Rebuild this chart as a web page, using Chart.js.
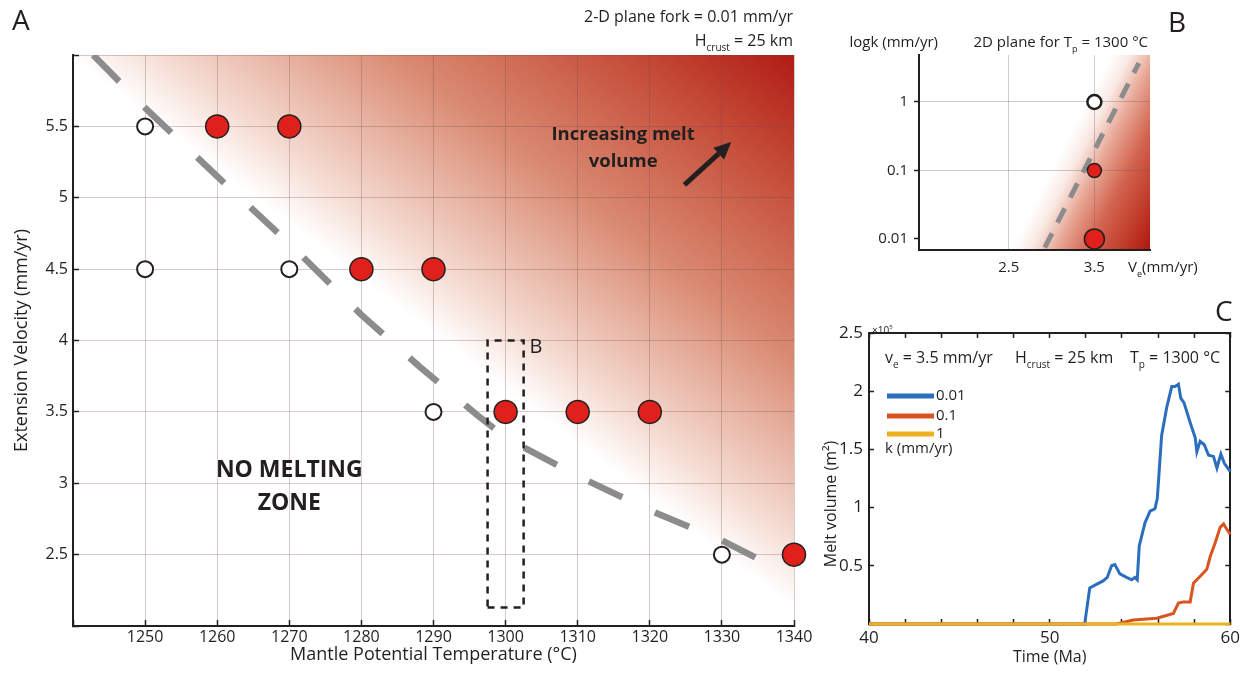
<!DOCTYPE html>
<html>
<head>
<meta charset="utf-8">
<script src="https://cdn.jsdelivr.net/npm/chart.js@4.4.1/dist/chart.umd.min.js"></script>
<style>
  body { margin: 0; background: #fff; width: 1249px; height: 680px; overflow: hidden; position: relative; }
  canvas { position: absolute; }
  #chartA { left: 0; top: 0; }
  #chartB { left: 820px; top: 0; }
  #chartC { left: 820px; top: 290px; }
</style>
</head>
<body>
<canvas id="chartA" width="830" height="680"></canvas>
<canvas id="chartB" width="429" height="290"></canvas>
<canvas id="chartC" width="429" height="390"></canvas>
<script>
// ---- panel A : regime diagram ----
const tempTicks = [1240, 1250, 1260, 1270, 1280, 1290, 1300, 1310, 1320, 1330, 1340];
const velTicks = [2, 2.5, 3, 3.5, 4, 4.5, 5, 5.5, 6];
const meltT = [1260, 1270, 1280, 1290, 1300, 1310, 1320, 1340];
const meltV = [5.5, 5.5, 4.5, 4.5, 3.5, 3.5, 3.5, 2.5];
const noMeltT = [1250, 1250, 1270, 1290, 1330];
const noMeltV = [5.5, 4.5, 4.5, 3.5, 2.5];
const boundaryT = [1242.8, 1250, 1260, 1270, 1280, 1288, 1296, 1300, 1310, 1320, 1330, 1337];
const boundaryV = [6.0, 5.63, 5.15, 4.68, 4.18, 3.82, 3.48, 3.32, 3.05, 2.81, 2.6, 2.42];
const boxT = [1297.5, 1302.5, 1302.5, 1297.5, 1297.5];
const boxV = [2.13, 2.13, 4.0, 4.0, 2.13];

// ---- panel B : 2D plane for Tp = 1300 ----
const veTicks = [2.5, 3.5];
const kTicks = [0.01, 0.1, 1];
const bOpenVe = [3.5];
const bOpenK = [1];
const bMeltVe = [3.5, 3.5];
const bMeltK = [0.1, 0.01];
const bMeltSize = [7, 10];
const bLineVe = [2.92, 4.02];
const bLineK = [0.0075, 3.7];

// ---- panel C : melt volume through time (x 1e5 m2) ----
const blueT = [40, 51.94, 52.22, 52.59, 52.96, 53.19, 53.43, 53.61, 53.89, 54.26, 54.54, 54.72, 54.85, 54.96, 55.28, 55.56, 55.83, 55.96, 56.2, 56.48, 56.76, 56.94, 57.13, 57.26, 57.44, 57.78, 58.06, 58.15, 58.33, 58.56, 58.8, 59.07, 59.26, 59.48, 59.67, 60];
const blueV = [0, 0, 0.31, 0.34, 0.37, 0.40, 0.50, 0.51, 0.43, 0.40, 0.38, 0.40, 0.38, 0.67, 0.87, 0.97, 0.99, 1.08, 1.62, 1.86, 2.04, 2.04, 2.06, 1.94, 1.90, 1.73, 1.60, 1.48, 1.57, 1.54, 1.45, 1.44, 1.34, 1.46, 1.38, 1.31];
const redT = [40, 53.7, 54.63, 55.93, 56.85, 57.13, 57.41, 57.78, 57.96, 58.15, 58.52, 58.7, 58.89, 59.17, 59.44, 59.63, 59.78, 60];
const redV = [0, 0, 0.035, 0.05, 0.09, 0.18, 0.19, 0.19, 0.35, 0.38, 0.44, 0.47, 0.58, 0.70, 0.83, 0.86, 0.82, 0.77];
const yellowT = [40, 60];
const yellowV = [0, 0];
const kLabels = ['0.01', '0.1', '1'];

const FONT = '"Open Sans", sans-serif';
const INK = '#231f20';
Chart.defaults.font.family = FONT;
Chart.defaults.color = INK;
Chart.defaults.animation = false;
Chart.defaults.plugins.legend.display = false;
Chart.defaults.plugins.tooltip.enabled = false;

const pts = (xs, ys) => xs.map((x, i) => ({ x: x, y: ys[i] }));

// text with sub/superscript pieces: [[text, 'sub'|'sup'|null], ...]
function rich(ctx, parts, x, y, size, align, weight) {
  weight = weight || 'normal';
  const fontOf = p => `${weight} ${p[1] ? Math.round(size * 0.6) : size}px ${FONT}`;
  const w = parts.map(p => { ctx.font = fontOf(p); return ctx.measureText(p[0]).width; });
  const total = w.reduce((s, v) => s + v, 0);
  let cx = align === 'right' ? x - total : align === 'center' ? x - total / 2 : x;
  ctx.textAlign = 'left';
  ctx.textBaseline = 'middle';
  ctx.fillStyle = INK;
  parts.forEach((p, i) => {
    ctx.font = fontOf(p);
    const dy = p[1] === 'sub' ? size * 0.42 : p[1] === 'sup' ? -size * 0.38 : 0;
    ctx.fillText(p[0], cx, y + dy);
    cx += w[i];
  });
}

// ================= A =================
const gradA = {
  id: 'gradA',
  beforeDraw(chart) {
    const { ctx, chartArea: a, scales: { x, y } } = chart;
    const x0 = x.getPixelForValue(1303), y0 = y.getPixelForValue(3.55);
    const g = ctx.createLinearGradient(x0, y0, a.right, a.top);
    g.addColorStop(0, '#ffffff');
    g.addColorStop(0.12, '#f5ddd4');
    g.addColorStop(0.45, '#d98a72');
    g.addColorStop(0.75, '#c6503c');
    g.addColorStop(1, '#b01c14');
    ctx.save();
    ctx.fillStyle = g;
    ctx.fillRect(a.left, a.top, a.width, a.height);
    ctx.restore();
  },
  afterDraw(chart) {
    const { ctx, scales: { x, y } } = chart;
    ctx.save();
    rich(ctx, [['A']], 12, 22, 28, 'left');
    rich(ctx, [['2-D plane fork = 0.01 mm/yr']], 793, 17, 16, 'right');
    rich(ctx, [['H'], ['crust', 'sub'], [' = 25 km']], 793, 41, 16, 'right');
    rich(ctx, [['Increasing melt']], x.getPixelForValue(1316.3), y.getPixelForValue(5.44), 18.5, 'center', 'bold');
    rich(ctx, [['volume']], x.getPixelForValue(1316.3), y.getPixelForValue(5.255), 18.5, 'center', 'bold');
    rich(ctx, [['NO MELTING']], x.getPixelForValue(1270), y.getPixelForValue(3.09), 23, 'center', 'bold');
    rich(ctx, [['ZONE']], x.getPixelForValue(1270), y.getPixelForValue(2.86), 23, 'center', 'bold');
    rich(ctx, [['B']], x.getPixelForValue(1303.3), y.getPixelForValue(3.95), 20, 'left');
    // arrow
    const tx = x.getPixelForValue(1324.8), ty = y.getPixelForValue(5.09);
    const hx = x.getPixelForValue(1331.3), hy = y.getPixelForValue(5.39);
    const ang = Math.atan2(hy - ty, hx - tx);
    const hl = 17, hw = 8;
    const bx = hx - hl * Math.cos(ang), by = hy - hl * Math.sin(ang);
    ctx.strokeStyle = INK; ctx.fillStyle = INK; ctx.lineWidth = 5;
    ctx.beginPath(); ctx.moveTo(tx, ty); ctx.lineTo(bx, by); ctx.stroke();
    ctx.beginPath();
    ctx.moveTo(hx, hy);
    ctx.lineTo(bx + hw * Math.sin(ang), by - hw * Math.cos(ang));
    ctx.lineTo(bx - hw * Math.sin(ang), by + hw * Math.cos(ang));
    ctx.closePath(); ctx.fill();
    ctx.restore();
  }
};

new Chart(document.getElementById('chartA'), {
  type: 'scatter',
  data: {
    datasets: [
      { data: pts(meltT, meltV), pointRadius: 11.5, pointBackgroundColor: '#e0211b', pointBorderColor: INK, pointBorderWidth: 1.5, clip: false, order: 0 },
      { data: pts(noMeltT, noMeltV), pointRadius: 8, pointBackgroundColor: '#ffffff', pointBorderColor: INK, pointBorderWidth: 2, clip: false, order: 1 },
      { data: pts(boxT, boxV), showLine: true, pointRadius: 0, borderColor: INK, borderWidth: 2.5, borderDash: [7, 6], order: 2 },
      { data: pts(boundaryT, boundaryV), showLine: true, pointRadius: 0, borderColor: '#8c8c8c', borderWidth: 6.5, borderDash: [37, 36], order: 3 }
    ]
  },
  options: {
    responsive: false,
    devicePixelRatio: 1,
    layout: { padding: { top: 55, right: 36, left: 0, bottom: 0 } },
    scales: {
      x: {
        min: 1240, max: 1340,
        afterBuildTicks: s => { s.ticks = tempTicks.map(v => ({ value: v })); },
        afterFit: s => { s.height = 54; },
        ticks: { callback: v => v === 1240 ? '' : v, font: { size: 16 }, padding: 8, maxRotation: 0, autoSkip: false },
        grid: { color: 'rgba(110,70,70,0.28)', tickLength: -6, tickColor: INK, tickWidth: 1.5 },
        border: { color: INK, width: 2 },
        title: { display: true, text: 'Mantle Potential Temperature (°C)', font: { size: 18 }, padding: { top: 4, bottom: 14 } }
      },
      y: {
        min: 2, max: 6,
        afterBuildTicks: s => { s.ticks = velTicks.map(v => ({ value: v })); },
        afterFit: s => { s.width = 73; },
        ticks: { callback: v => (v === 2 || v === 6) ? '' : v, font: { size: 16 }, padding: 11, autoSkip: false },
        grid: { color: 'rgba(110,70,70,0.28)', tickLength: -6, tickColor: INK, tickWidth: 1.5 },
        border: { color: INK, width: 2 },
        title: { display: true, text: 'Extension Velocity (mm/yr)', font: { size: 18 }, padding: { top: 11, bottom: 0 } }
      }
    }
  },
  plugins: [gradA]
});

// ================= B =================
const gradB = {
  id: 'gradB',
  beforeDraw(chart) {
    const { ctx, chartArea: a, scales: { x, y } } = chart;
    const ax = x.getPixelForValue(bLineVe[0]), ay = y.getPixelForValue(bLineK[0]);
    const bx = x.getPixelForValue(bLineVe[1]), by = y.getPixelForValue(bLineK[1]);
    const L = Math.hypot(bx - ax, by - ay), ux = (bx - ax) / L, uy = (by - ay) / L;
    const cx = a.right, cy = a.bottom;
    const s = (cx - ax) * ux + (cy - ay) * uy;
    const fx = ax + s * ux, fy = ay + s * uy;
    const g = ctx.createLinearGradient(fx - (cx - fx) * 0.3, fy - (cy - fy) * 0.3, cx, cy);
    g.addColorStop(0, '#ffffff');
    g.addColorStop(0.14, '#f9e9e3');
    g.addColorStop(0.32, '#e8a796');
    g.addColorStop(0.55, '#d26550');
    g.addColorStop(0.8, '#c03a28');
    g.addColorStop(1, '#ac1810');
    ctx.save();
    ctx.fillStyle = g;
    ctx.fillRect(a.left, a.top, a.width, a.height);
    ctx.restore();
  },
  afterDraw(chart) {
    const ctx = chart.ctx;
    ctx.save();
    rich(ctx, [['B']], 348, 24, 28, 'left');
    rich(ctx, [['logk (mm/yr)']], 118, 43, 15, 'right');
    rich(ctx, [['2D plane for T'], ['p', 'sub'], [' = 1300 °C']], 328, 43, 15, 'right');
    rich(ctx, [['V'], ['e', 'sub'], ['(mm/yr)']], 308, 268, 15, 'left');
    ctx.restore();
  }
};

new Chart(document.getElementById('chartB'), {
  type: 'scatter',
  data: {
    datasets: [
      { data: pts(bMeltVe, bMeltK), pointRadius: bMeltSize, pointBackgroundColor: '#e0211b', pointBorderColor: INK, pointBorderWidth: 1.5, clip: false, order: 0 },
      { data: pts(bOpenVe, bOpenK), pointRadius: 7, pointBackgroundColor: '#ffffff', pointBorderColor: INK, pointBorderWidth: 2.5, clip: false, order: 1 },
      { data: pts(bLineVe, bLineK), showLine: true, pointRadius: 0, borderColor: '#8c8c8c', borderWidth: 5, borderDash: [16, 12], order: 2 }
    ]
  },
  options: {
    responsive: false,
    devicePixelRatio: 1,
    layout: { padding: { top: 55, right: 99, left: 0, bottom: 0 } },
    scales: {
      x: {
        min: 1.45, max: 4.15,
        afterBuildTicks: s => { s.ticks = veTicks.map(v => ({ value: v })); },
        afterFit: s => { s.height = 40; },
        ticks: { font: { size: 15 }, padding: 9, maxRotation: 0, autoSkip: false },
        grid: { color: 'rgba(110,80,80,0.3)', drawTicks: false },
        border: { color: INK, width: 2 }
      },
      y: {
        type: 'logarithmic',
        min: 0.0069, max: 4.85,
        afterBuildTicks: s => { s.ticks = kTicks.map(v => ({ value: v })); },
        afterFit: s => { s.width = 99; },
        ticks: { callback: v => String(v), font: { size: 15 }, padding: 6, autoSkip: false },
        grid: { color: c => c.tick && c.tick.value === 0.01 ? 'rgba(0,0,0,0)' : 'rgba(110,80,80,0.3)', tickLength: 5, tickColor: INK, tickWidth: 1.5 },
        border: { color: INK, width: 2 }
      }
    }
  },
  plugins: [gradB]
});

// ================= C =================
const textC = {
  id: 'textC',
  afterDraw(chart) {
    const ctx = chart.ctx;
    ctx.save();
    rich(ctx, [['C']], 395, 23, 28, 'left');
    rich(ctx, [['×10'], ['5', 'sup']], 52, 41, 10, 'left');
    rich(ctx, [['v'], ['e', 'sub'], [' = 3.5 mm/yr']], 65, 68, 16, 'left');
    rich(ctx, [['H'], ['crust', 'sub'], [' = 25 km']], 195, 68, 16, 'left');
    rich(ctx, [['T'], ['p', 'sub'], [' = 1300 °C']], 310, 68, 16, 'left');
    const legColors = ['#2a6ebd', '#d9541e', '#edb120'];
    const legY = [106, 126, 144];
    legColors.forEach((c, i) => {
      ctx.strokeStyle = c; ctx.lineWidth = 5;
      ctx.beginPath(); ctx.moveTo(67, legY[i]); ctx.lineTo(114, legY[i]); ctx.stroke();
      rich(ctx, [[kLabels[i]]], 116, legY[i], 15, 'left');
    });
    rich(ctx, [['k (mm/yr)']], 65, 159, 15, 'left');
    ctx.translate(11, 214);
    ctx.rotate(-Math.PI / 2);
    rich(ctx, [['Melt volume (m²)']], 0, 0, 16, 'center');
    ctx.restore();
  }
};

const innerGrid = { drawOnChartArea: false, tickLength: -5, tickColor: INK, tickWidth: 1.5 };

new Chart(document.getElementById('chartC'), {
  type: 'line',
  data: {
    datasets: [
      { data: pts(yellowT, yellowV), borderColor: '#edb120', borderWidth: 3, pointRadius: 0, clip: false, order: 0 },
      { data: pts(redT, redV), borderColor: '#d9541e', borderWidth: 3, pointRadius: 0, clip: false, order: 1 },
      { data: pts(blueT, blueV), borderColor: '#2a6ebd', borderWidth: 3, pointRadius: 0, clip: false, order: 2 }
    ]
  },
  options: {
    responsive: false,
    devicePixelRatio: 1,
    layout: { padding: { top: 43, right: 16, left: 0, bottom: 0 } },
    scales: {
      x: {
        type: 'linear', min: 40, max: 60, position: 'bottom',
        afterFit: s => { s.height = 56; },
        ticks: { stepSize: 2, callback: v => v % 10 === 0 ? v : '', font: { size: 17 }, padding: 9, maxRotation: 0, autoSkip: false },
        grid: innerGrid,
        border: { color: INK, width: 2 },
        title: { display: true, text: 'Time (Ma)', font: { size: 16 }, padding: { top: 0, bottom: 13 } }
      },
      x2: {
        type: 'linear', min: 40, max: 60, position: 'top',
        afterFit: s => { s.height = 0; },
        ticks: { stepSize: 2, display: false, autoSkip: false },
        grid: innerGrid,
        border: { color: INK, width: 2 }
      },
      y: {
        min: 0, max: 2.5,
        afterFit: s => { s.width = 49; },
        ticks: { stepSize: 0.5, callback: v => v === 0 ? '' : v, font: { size: 17 }, padding: 11, autoSkip: false },
        grid: innerGrid,
        border: { color: INK, width: 2 }
      },
      y2: {
        min: 0, max: 2.5, position: 'right',
        afterFit: s => { s.width = 0; },
        ticks: { stepSize: 0.5, display: false, autoSkip: false },
        grid: innerGrid,
        border: { color: INK, width: 2 }
      }
    }
  },
  plugins: [textC]
});
</script>
</body>
</html>
